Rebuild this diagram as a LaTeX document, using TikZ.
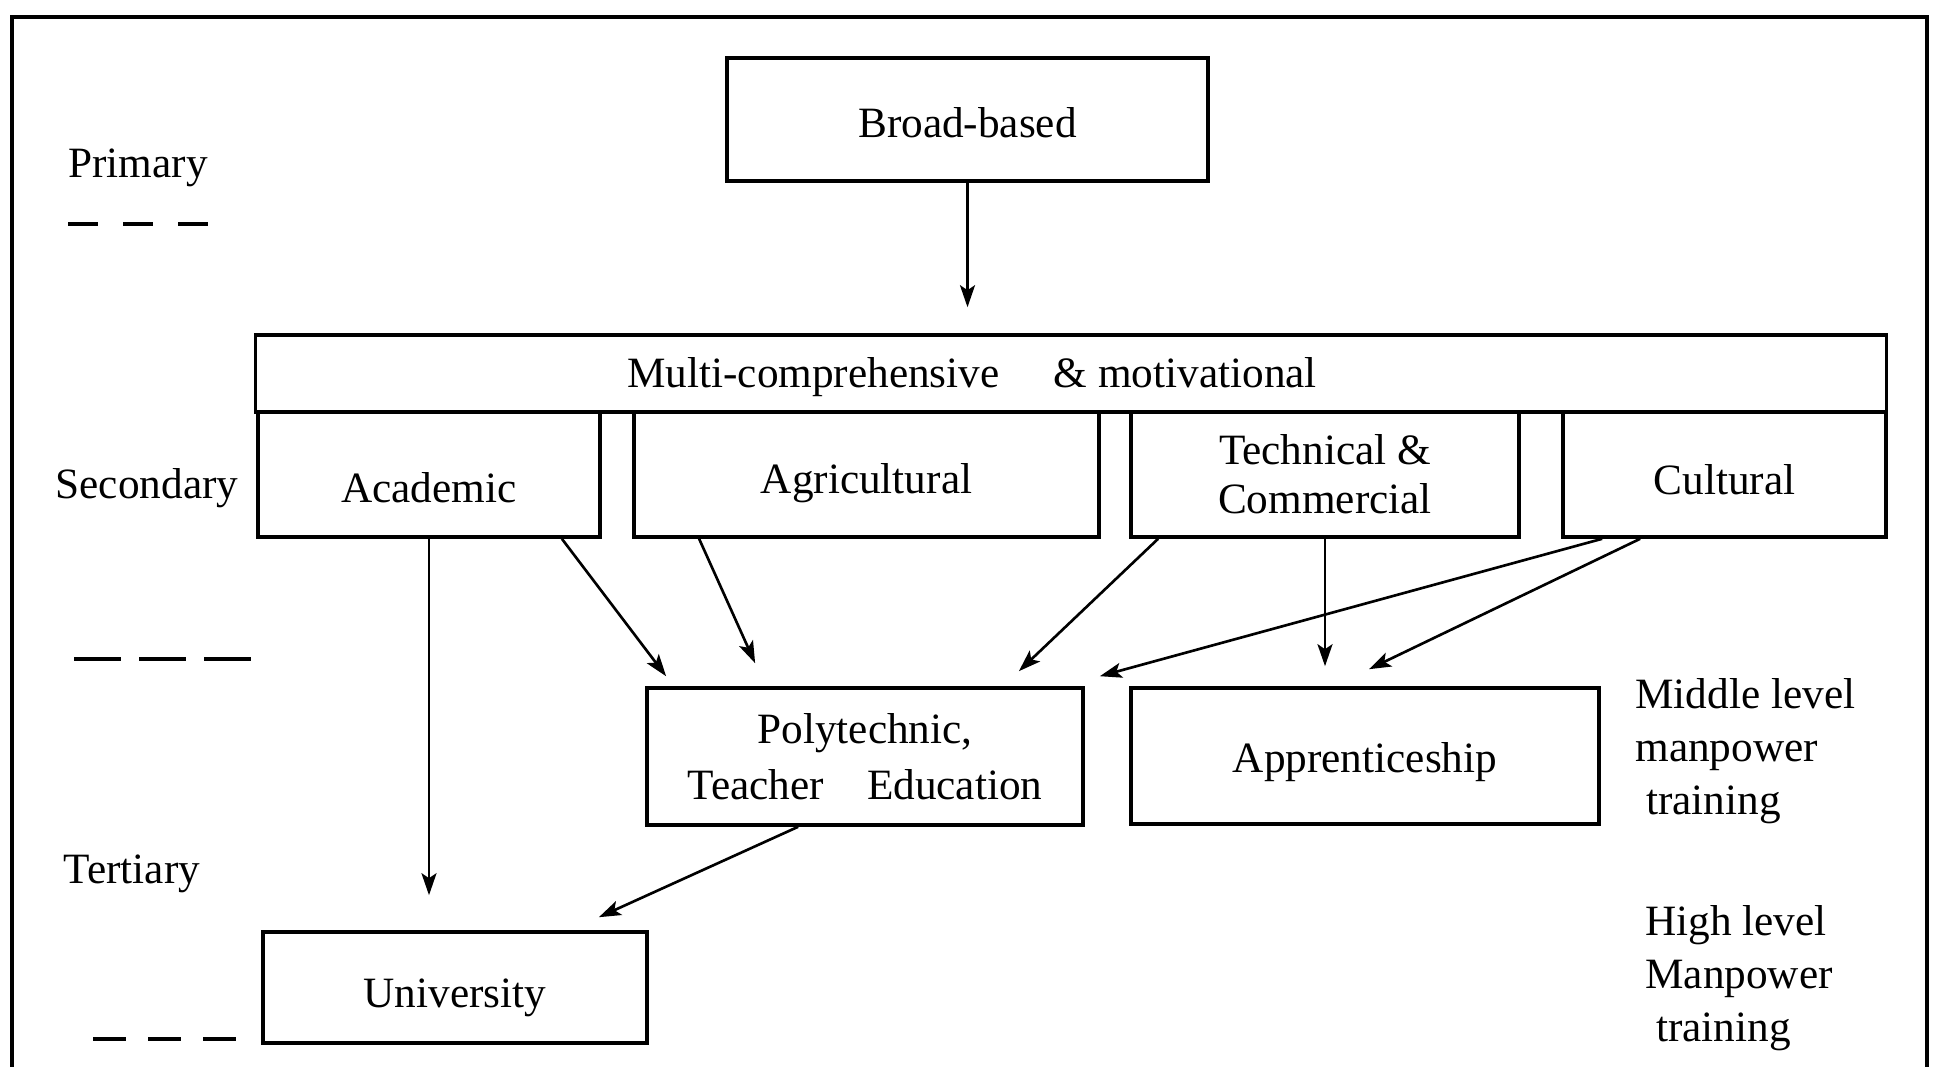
\documentclass[tikz,border=0pt]{standalone}
\usepackage{fontspec}
\setmainfont{Liberation Serif}
\usetikzlibrary{arrows.meta,calc}
\newcommand\lowered[2]{\raisebox{-#1}[\height][\depth]{#2}}
\tikzset{box/.style={draw,line width=1pt,inner sep=0pt,align=center},
         arr/.style={line width=0.75pt,-{Stealth[length=2.2mm,width=1.5mm,inset=0.5mm]}},
         side/.style={anchor=west,align=left,font=\fontsize{12.3}{15}\selectfont}
}

\begin{document}
\begin{tikzpicture}[x=0.01cm,y=-0.01cm,font=\fontsize{12.3}{14}\selectfont]
  \useasboundingbox (0,0) rectangle (1939,1067);
  % frame, open at the bottom
  \draw[line width=1.3pt] (12,1080) -- (12,17) -- (1927,17) -- (1927,1080);
  % boxes
  \node[box,minimum width=4.81cm,minimum height=1.23cm] (broad) at (967.5,119.5) {\lowered{0.03cm}{Broad-based}};
  \node[box,minimum width=16.3cm,minimum height=0.77cm] (multi) at (1071,373.5) {};
  \node (multitext) at (972,377) {Multi-comprehensive\quad\ \& motivational};
  \node[box,minimum width=3.42cm,minimum height=1.25cm] (academic) at (429,474.5) {\lowered{0.13cm}{Academic}};
  \node[box,minimum width=4.65cm,minimum height=1.25cm] (agri) at (866.5,474.5) {\lowered{0.09cm}{Agricultural}};
  \node[box,minimum width=3.88cm,minimum height=1.25cm] (tech) at (1325,474.5) {Technical \&\\Commercial};
  \node[box,minimum width=3.23cm,minimum height=1.25cm] (cult) at (1724.5,474.5) {\lowered{0.05cm}{Cultural}};
  \node[box,minimum width=4.36cm,minimum height=1.37cm] (poly) at (865,756.5) {Polytechnic,\\[2pt]Teacher\quad Education};
  \node[box,minimum width=4.68cm,minimum height=1.36cm] (apprent) at (1365,756) {\lowered{0.06cm}{Apprenticeship}};
  \node[box,minimum width=3.84cm,minimum height=1.11cm] (univ) at (455,987.5) {\lowered{0.1cm}{University}};
  % levels on the left
  \foreach\nm/\txt/\x/\y in {prim/Primary/138/168,sec/Secondary/147/488,tert/Tertiary/132/874}
     \node (\nm) at (\x,\y) {\txt};
  \foreach\a/\b/\y/\on/\off in {68/216/224/0.3/0.25,74/253/659/0.47/0.18,93/240/1039/0.33/0.22}
     \draw[line width=0.9pt,dash pattern=on \on cm off \off cm] (\a,\y) -- (\b,\y);
  % manpower notes on the right
  \node[side] (middle) at (1623,751) {Middle level\\manpower\\\ training};
  \node[side] (high) at (1633,978) {High level\\Manpower\\\ training};
  % arrows
  \draw[arr] (broad.south) -- ($(broad.south |- multi.north)+(0,-26)$);
  \draw[arr] (academic.south) -- ($(academic.south |- univ.north)+(0,-35)$);
  \draw[arr] ($(academic.south east)+(-40,0)$) -- ($(poly.north west)+(21,-10)$);
  \draw[arr] ($(agri.south west)+(67,0)$) -- ($(poly.north west)+(110,-23)$);
  \draw[arr] ($(tech.south west)+(29,0)$) -- ($(poly.north east)+(-66,-15)$);
  \draw[arr] (tech.south) -- ($(tech.south |- apprent.north)+(0,-20)$);
  \draw[arr] ($(cult.south west)+(41,0)$) -- ($(poly.north east)+(15,-10)$);
  \draw[arr] ($(cult.south west)+(79,0)$) -- ($(apprent.north)+(4,-17)$);
  \draw[arr] ($(poly.south west)+(153,0)$) -- ($(univ.north east)+(-50,-13)$);
\end{tikzpicture}
\end{document}
